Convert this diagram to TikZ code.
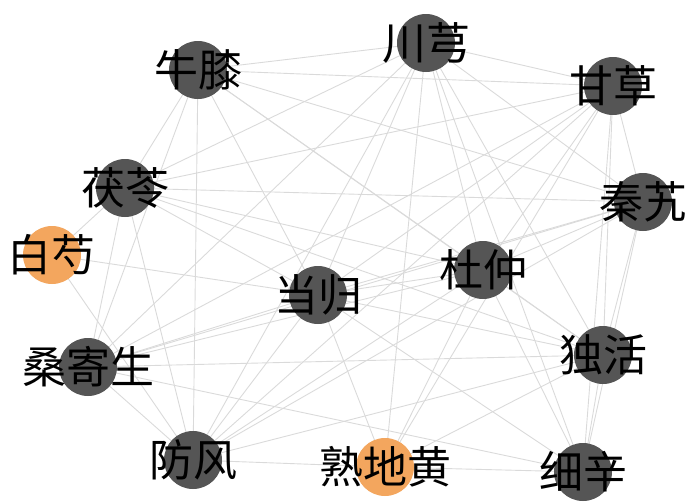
\documentclass[tikz,border=0pt]{standalone}
\usepackage{fontspec}
\newfontfamily\cjk{Noto Sans CJK SC}
\usetikzlibrary{backgrounds}
\definecolor{nodegrey}{RGB}{85,85,85}
\definecolor{herborange}{RGB}{243,166,94}
\definecolor{edgegrey}{RGB}{218,218,218}
\begin{document}
\begin{tikzpicture}[x=1pt,y=-1pt,
  edge/.style={draw=edgegrey, line width=0.9pt},
  herb/.style={circle, fill=nodegrey, minimum size=58pt, inner sep=0pt},
  herbo/.style={circle, fill=herborange, minimum size=58pt, inner sep=0pt},
  lbl/.style={font=\cjk\fontsize{44}{44}\selectfont, text=black, inner sep=0pt}]
\useasboundingbox (0,0) rectangle (688,501);
\node[herb]  (cx) at (426,43)  {};
\node[herb]  (nx) at (198,70)  {};
\node[herb]  (gc) at (613,86)  {};
\node[herb]  (fl) at (125,188) {};
\node[herb]  (qj) at (643,202) {};
\node[herbo] (bs) at (52,255)  {};
\node[herb]  (dg) at (318,295) {};
\node[herb]  (dz) at (483,270) {};
\node[herb]  (dh) at (603,355) {};
\node[herb]  (sj) at (88,367)  {};
\node[herb]  (ff) at (193,460) {};
\node[herbo] (sd) at (385,467) {};
\node[herb]  (xx) at (583,472) {};
\begin{scope}[on background layer]
\foreach \a/\b in {cx/nx,cx/gc,cx/qj,cx/fl,cx/dg,cx/dz,cx/dh,cx/xx,cx/ff,cx/sd,cx/sj,
  nx/gc,nx/qj,nx/dz,nx/dh,nx/fl,nx/sj,nx/ff,nx/dg,
  gc/qj,gc/dh,gc/xx,gc/fl,gc/dg,gc/dz,gc/sj,gc/ff,gc/sd,
  qj/dh,qj/xx,qj/fl,qj/dg,qj/dz,qj/sj,qj/ff,
  fl/bs,fl/sj,fl/ff,fl/dz,fl/dh,fl/dg,
  bs/dg,bs/ff,
  dg/dz,dg/dh,dg/xx,dg/sj,dg/ff,dg/sd,
  dz/dh,dz/xx,dz/sj,dz/ff,dz/sd,
  dh/xx,dh/sj,dh/ff,dh/sd,
  sj/xx,sj/ff,
  ff/sd,sd/xx}
  \draw[edge] (\a.center) -- (\b.center);
\end{scope}
\node[lbl] (cx-t) at (cx) {川芎};
\node[lbl] (nx-t) at (nx) {牛膝};
\node[lbl] (gc-t) at (gc) {甘草};
\node[lbl] (fl-t) at (fl) {茯苓};
\node[lbl] (qj-t) at (qj) {秦艽};
\node[lbl] (bs-t) at (bs) {白芍};
\node[lbl] (dg-t) at (dg) {当归};
\node[lbl] (dz-t) at (dz) {杜仲};
\node[lbl] (dh-t) at (dh) {独活};
\node[lbl] (sj-t) at (sj) {桑寄生};
\node[lbl] (ff-t) at (ff) {防风};
\node[lbl] (sd-t) at (sd) {熟地黄};
\node[lbl] (xx-t) at (xx) {细辛};
\end{tikzpicture}
\end{document}
